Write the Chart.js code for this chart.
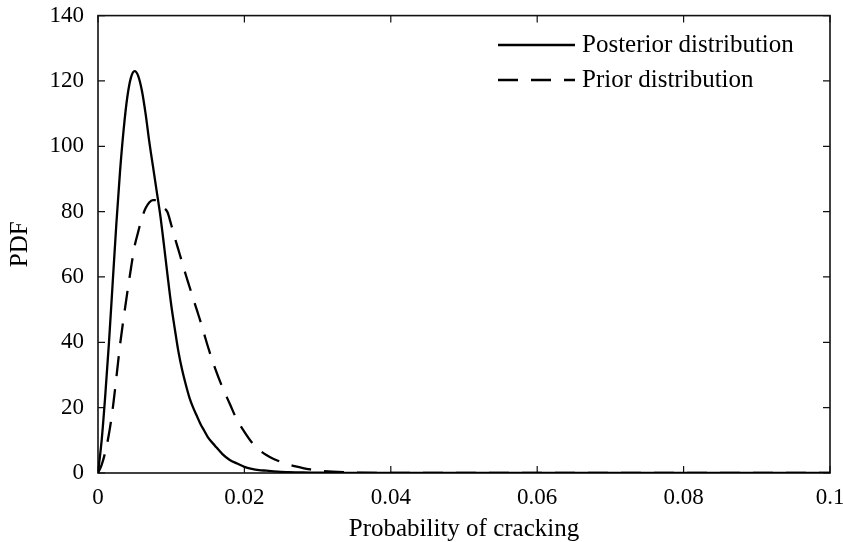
<!DOCTYPE html>
<html><head><meta charset="utf-8">
<script src="https://cdn.jsdelivr.net/npm/chart.js@4.4.0/dist/chart.umd.min.js"></script>
<style>html,body{margin:0;padding:0;background:#fff}#wrap{width:843px;height:542px;position:relative}</style>
</head><body><div id="wrap"><canvas id="c" width="843" height="542"></canvas></div>
<script>
const probability = [0,0.0005,0.001,0.0015,0.002,0.0025,0.003,0.0035,0.004,0.0045,0.005,0.0055,0.006,0.0065,0.007,0.0075,0.008,0.0085,0.009,0.0095,0.01,0.0105,0.011,0.0115,0.012,0.0125,0.013,0.0135,0.014,0.0145,0.015,0.016,0.017,0.018,0.019,0.02,0.021,0.022,0.023,0.024,0.025,0.026,0.027,0.028,0.029,0.03,0.032,0.035,0.04,0.05,0.06,0.07,0.08,0.09,0.1];
const posterior = [0,10,24,40,58,76,92,105,115,121,123,121.5,117,110,101.5,94,86.5,79,70,60.5,51.5,44,37,31.5,27,23,20,17.5,15,13,11,8.3,5.8,4.0,2.9,1.9,1.3,0.9,0.7,0.5,0.35,0.27,0.2,0.15,0.12,0.1,0.06,0.03,0,0,0,0,0,0,0];
const prior = [0,2.5,6.5,12,19.5,29,39,47.4,55.2,62.6,69.4,73.9,78.1,81,82.8,83.5,83.5,82.6,81.2,79.8,76,72,68.2,64.4,60.6,57,53.4,49.9,46.4,42.6,38.8,32,26.2,21.2,16.2,12.6,9.4,7.1,5.5,4.3,3.4,2.6,2.0,1.5,1.1,0.8,0.4,0.15,0.05,0,0,0,0,0,0];
const xTicks = [0,0.02,0.04,0.06,0.08,0.1];
const xTickLabels = ['0','0.02','0.04','0.06','0.08','0.1'];
const yTicks = [0,20,40,60,80,100,120,140];
const yTickLabels = ['0','20','40','60','80','100','120','140'];
const seriesNames = ['Posterior distribution','Prior distribution'];
const xTitle = 'Probability of cracking';
const yTitle = 'PDF';

const FONT = "'Liberation Serif', 'Times New Roman', serif";
const DASH = [20, 13];

const boxPlugin = {
  id: 'box',
  beforeDatasetsDraw(chart) {
    const {ctx, chartArea: a, scales: {x, y}} = chart;
    ctx.save();
    ctx.strokeStyle = '#111';
    ctx.lineWidth = 1.6;
    ctx.strokeRect(a.left, a.top, a.right - a.left, a.bottom - a.top);
    ctx.lineWidth = 1.2;
    const L = 7;
    ctx.beginPath();
    xTicks.forEach(v => {
      const px = x.getPixelForValue(v);
      ctx.moveTo(px, a.bottom); ctx.lineTo(px, a.bottom - L);
      ctx.moveTo(px, a.top); ctx.lineTo(px, a.top + L);
    });
    yTicks.forEach(v => {
      const py = y.getPixelForValue(v);
      ctx.moveTo(a.left, py); ctx.lineTo(a.left + L, py);
      ctx.moveTo(a.right, py); ctx.lineTo(a.right - L, py);
    });
    ctx.stroke();
    ctx.restore();
  },
  afterDraw(chart) {
    const {ctx} = chart;
    ctx.save();
    ctx.font = '25px ' + FONT;
    ctx.fillStyle = '#000';
    ctx.textBaseline = 'middle';
    ctx.textAlign = 'left';
    const rows = [45, 80];
    chart.data.datasets.forEach((ds, i) => {
      const yy = rows[i];
      ctx.strokeStyle = ds.borderColor;
      ctx.lineWidth = ds.borderWidth;
      ctx.setLineDash(ds.borderDash || []);
      ctx.beginPath();
      ctx.moveTo(498, yy); ctx.lineTo(575, yy);
      ctx.stroke();
      ctx.setLineDash([]);
      ctx.fillText(ds.label, 582, yy);
    });
    ctx.restore();
  }
};

new Chart(document.getElementById('c'), {
  type: 'scatter',
  data: {
    datasets: [
      {label: seriesNames[0], data: probability.map((p, i) => ({x: p, y: posterior[i]})),
       showLine: true, borderColor: '#000', borderWidth: 2.3, pointRadius: 0,
       cubicInterpolationMode: 'monotone', fill: false},
      {label: seriesNames[1], data: probability.map((p, i) => ({x: p, y: prior[i]})),
       showLine: true, borderColor: '#000', borderWidth: 2.3, borderDash: DASH, pointRadius: 0,
       cubicInterpolationMode: 'monotone', fill: false}
    ]
  },
  options: {
    responsive: false,
    animation: false,
    events: [],
    layout: {padding: {top: 15.6, right: 13, bottom: 0, left: 0}},
    plugins: {legend: {display: false}, tooltip: {enabled: false}},
    scales: {
      x: {
        type: 'linear', min: 0, max: 0.1,
        afterBuildTicks: s => { s.ticks = xTicks.map(v => ({value: v})); },
        afterFit: s => { s.height = 69; s.paddingLeft = 0; s.paddingRight = 0; },
        grid: {display: false, drawTicks: false},
        border: {display: false},
        ticks: {color: '#000', font: {family: FONT, size: 23}, padding: 11, maxRotation: 0,
          callback: (v) => { const i = xTicks.indexOf(v); return i >= 0 ? xTickLabels[i] : ''; }},
        title: {display: true, text: xTitle, color: '#000', font: {family: FONT, size: 25, lineHeight: 1}, padding: {top: 0, bottom: 0}}
      },
      y: {
        type: 'linear', min: 0, max: 140,
        afterBuildTicks: s => { s.ticks = yTicks.map(v => ({value: v})); },
        afterFit: s => { s.width = 98; s.paddingTop = 0; s.paddingBottom = 0; },
        grid: {display: false, drawTicks: false},
        border: {display: false},
        ticks: {color: '#000', font: {family: FONT, size: 23}, padding: 14,
          callback: (v) => { const i = yTicks.indexOf(v); return i >= 0 ? yTickLabels[i] : ''; }},
        title: {display: true, text: yTitle, color: '#000', font: {family: FONT, size: 25, lineHeight: 1}, padding: {top: 8, bottom: 0}}
      }
    }
  },
  plugins: [boxPlugin]
});
</script>
</body></html>
